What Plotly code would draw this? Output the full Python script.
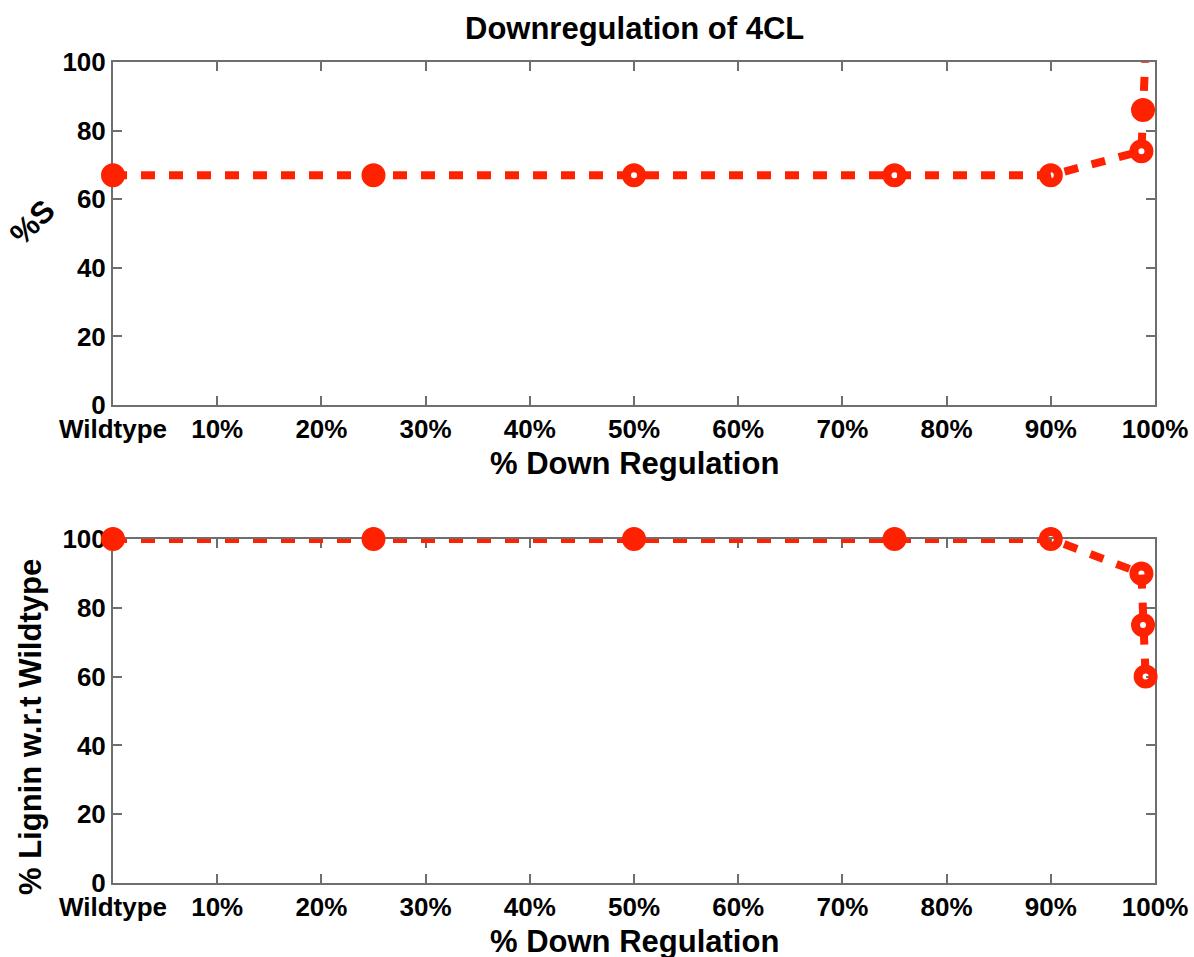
import plotly.graph_objects as go

# Downregulation levels (x, % of full knock-down) and responses
down_pct_s = [0, 25, 50, 75, 90, 98.7, 98.85, 99.05]
s_content = [67, 67, 67, 67, 67, 74, 86, 100]

down_pct_lignin = [0, 25, 50, 75, 90, 98.7, 98.85, 99.1]
lignin_rel = [100, 100, 100, 100, 100, 90, 75, 60]

x_tick_vals = [0, 10, 20, 30, 40, 50, 60, 70, 80, 90, 100]
x_tick_text = ["Wildtype", "10%", "20%", "30%", "40%", "50%",
               "60%", "70%", "80%", "90%", "100%"]
y_tick_vals = [0, 20, 40, 60, 80, 100]

RED = "#ff2200"
AXIS_GREY = "#6e6e6e"
FONT = "Liberation Sans, Arial, Helvetica, sans-serif"

# marker styling per point (open circles show a small hole)
s_symbols = ["circle", "circle", "circle-open", "circle-open", "circle-open",
             "circle-open", "circle", "circle"]
s_sizes = [15, 15, 15, 15, 15, 15, 15, 0]
l_symbols = ["circle", "circle", "circle", "circle", "circle-open",
             "circle-open", "circle-open", "circle-open"]
l_sizes = [15, 15, 15, 15, 15, 15, 15, 15]

fig = go.Figure()

fig.add_trace(go.Scatter(
    x=down_pct_s, y=s_content, mode="lines+markers",
    line=dict(color=RED, width=8, dash="14px,14px"),
    marker=dict(symbol=s_symbols, size=s_sizes, color=RED, opacity=1,
                line=dict(color=RED, width=9)),
    cliponaxis=False, showlegend=False, xaxis="x", yaxis="y",
))
fig.add_trace(go.Scatter(
    x=down_pct_lignin, y=lignin_rel, mode="lines+markers",
    line=dict(color=RED, width=8, dash="14px,14px"),
    marker=dict(symbol=l_symbols, size=l_sizes, color=RED, opacity=1,
                line=dict(color=RED, width=9)),
    cliponaxis=False, showlegend=False, xaxis="x2", yaxis="y2",
))

X_DOM = [113 / 1194, 1155 / 1194]
TOP_DOM = [1 - 405 / 957, 1 - 62 / 957]
BOT_DOM = [1 - 883 / 957, 1 - 539 / 957]

tick_font = dict(family=FONT, size=26, color="black", weight="bold")

common_x = dict(
    range=[0, 100], tickvals=x_tick_vals, ticktext=x_tick_text,
    showline=True, linecolor=AXIS_GREY, linewidth=2, mirror="ticks",
    ticks="inside", ticklen=9, tickwidth=1.5, tickcolor=AXIS_GREY,
    showgrid=False, zeroline=False, tickfont=tick_font, layer="below traces",
    fixedrange=True, automargin=False,
)
common_y = dict(
    range=[0, 100], tickvals=y_tick_vals,
    showline=True, linecolor=AXIS_GREY, linewidth=2, mirror="ticks",
    ticks="inside", ticklen=9, tickwidth=1.5, tickcolor=AXIS_GREY,
    showgrid=False, zeroline=False, tickfont=tick_font, layer="below traces",
    fixedrange=True, automargin=False,
)

fig.update_layout(
    width=1194, height=957,
    margin=dict(l=0, r=0, t=0, b=0, autoexpand=False),
    paper_bgcolor="white", plot_bgcolor="white",
    xaxis=dict(domain=X_DOM, anchor="y", **common_x),
    yaxis=dict(domain=TOP_DOM, anchor="x", **common_y),
    xaxis2=dict(domain=X_DOM, anchor="y2", **common_x),
    yaxis2=dict(domain=BOT_DOM, anchor="x2", **common_y),
)

title_font = dict(family=FONT, size=31, color="black", weight="bold")


def px_x(p):
    return p / 1194


def px_y(p):
    return 1 - p / 957


fig.add_annotation(text="Downregulation of 4CL", x=px_x(634), y=px_y(29),
                   xref="paper", yref="paper", showarrow=False,
                   font=title_font, xanchor="center", yanchor="middle")
fig.add_annotation(text="% Down Regulation", x=px_x(634), y=px_y(463),
                   xref="paper", yref="paper", showarrow=False,
                   font=title_font, xanchor="center", yanchor="middle")
fig.add_annotation(text="% Down Regulation", x=px_x(634), y=px_y(941),
                   xref="paper", yref="paper", showarrow=False,
                   font=title_font, xanchor="center", yanchor="middle")
fig.add_annotation(text="%S", x=px_x(32), y=px_y(222),
                   xref="paper", yref="paper", showarrow=False,
                   font=title_font, textangle=-45,
                   xanchor="center", yanchor="middle")
fig.add_annotation(text="% Lignin w.r.t Wildtype", x=px_x(30), y=px_y(727),
                   xref="paper", yref="paper", showarrow=False,
                   font=title_font, textangle=-90,
                   xanchor="center", yanchor="middle")

fig.write_html("out.html")
